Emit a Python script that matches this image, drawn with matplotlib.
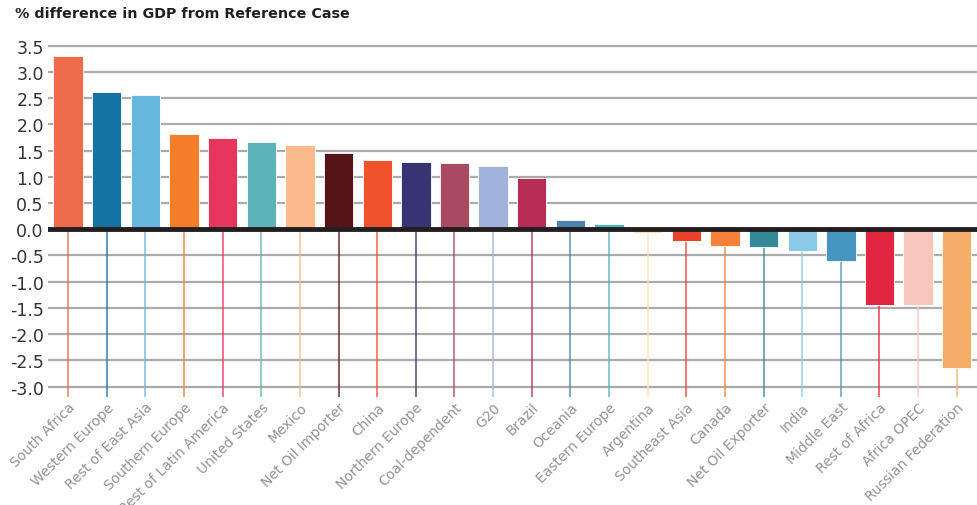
import matplotlib
matplotlib.use("Agg")
import matplotlib.pyplot as plt

regions = [
    "South Africa", "Western Europe", "Rest of East Asia", "Southern Europe",
    "Rest of Latin America", "United States", "Mexico", "Net Oil Importer",
    "China", "Northern Europe", "Coal-dependent", "G20", "Brazil", "Oceania",
    "Eastern Europe", "Argentina", "Southeast Asia", "Canada",
    "Net Oil Exporter", "India", "Middle East", "Rest of Africa",
    "Africa OPEC", "Russian Federation",
]
gdp_diff = [
    3.30, 2.62, 2.57, 1.81, 1.74, 1.66, 1.61, 1.46, 1.33, 1.28, 1.26, 1.21,
    0.98, 0.17, 0.10, -0.08, -0.23, -0.31, -0.34, -0.41, -0.61, -1.44,
    -1.44, -2.65,
]
bar_colors = [
    "#F06B4A", "#1473A3", "#67B8E1", "#F47D2A", "#E8355E", "#5EB3BB",
    "#FBB98C", "#561418", "#F0522B", "#343572", "#AA4A61", "#A1B3DC",
    "#B72C55", "#4B84B0", "#4FB4BE", "#FBE6A8", "#E84229", "#F5823A",
    "#338A96", "#8BC9E6", "#4795C1", "#E22642", "#F9C6BC", "#F6AD6A",
]
y_ticks = [3.5, 3.0, 2.5, 2.0, 1.5, 1.0, 0.5, 0.0, -0.5, -1.0, -1.5,
           -2.0, -2.5, -3.0]

fig = plt.figure(figsize=(9.78, 5.06), dpi=100)
ax = fig.add_axes([48 / 978, 1 - 398 / 506, 930 / 978, (398 - 40) / 506])

x = list(range(len(regions)))
ax.set_xlim(-0.52, len(regions) - 0.45)
ax.set_ylim(-3.2, 3.63)

# horizontal grid
for t in y_ticks:
    if t != 0:
        ax.axhline(t, color="#ABABAB", lw=1.6, zorder=1)

# coloured drop lines under each category
for xi, v, c in zip(x, gdp_diff, bar_colors):
    ax.vlines(xi, -3.2, min(v, 0), color=c, lw=1.3, alpha=0.75, zorder=2)

ax.bar(x, gdp_diff, width=0.76, color=bar_colors, edgecolor="white",
       linewidth=0.6, zorder=3)

ax.axhline(0, color="#231F20", lw=3.5, zorder=4)

ax.set_yticks(y_ticks)
ax.set_yticklabels([f"{t:.1f}" for t in y_ticks],
                   fontsize=12.5, color="#333333")
ax.tick_params(axis="y", length=0, pad=3)
ax.set_xticks(x)
ax.set_xticklabels(regions, rotation=45, ha="right", rotation_mode="anchor",
                   fontsize=10, color="#939393")
ax.tick_params(axis="x", length=0, pad=2)
for s in ax.spines.values():
    s.set_visible(False)

fig.text(15 / 978, 1 - 14 / 506, "% difference in GDP from Reference Case",
         fontsize=10.3, fontweight="bold", color="#231F20", va="center",
         ha="left")

fig.savefig("out.png", dpi=100, facecolor="white")
